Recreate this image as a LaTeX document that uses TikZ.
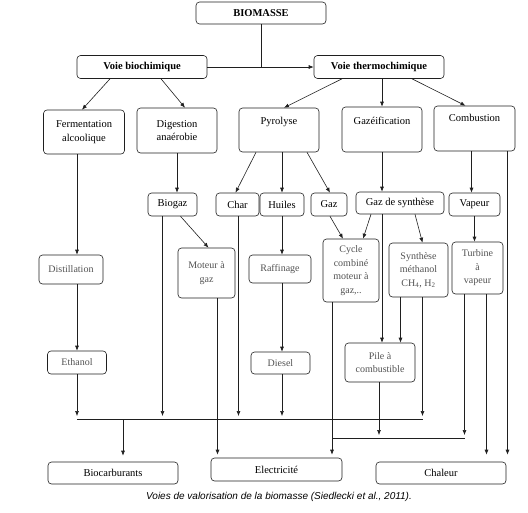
\documentclass[tikz,border=0pt]{standalone}
\usepackage{fontspec}
\setmainfont{Liberation Serif}
\newfontfamily\capfont{Liberation Sans}
\usetikzlibrary{arrows.meta, positioning}
\definecolor{mygray}{gray}{0.32}
\definecolor{myline}{gray}{0.12}

\begin{document}
\begin{tikzpicture}[x=1pt, y=-1pt, line width=0.6pt, myline,
    box/.style={draw, rounded corners=3.5pt, align=center, inner sep=2pt, text=black, font=\fontsize{10.5}{13.5}\selectfont},
    headbox/.style={box, font=\fontsize{10.5}{13}\selectfont\bfseries},
    stepbox/.style={box, text=mygray, font=\fontsize{10}{13.5}\selectfont},
    arr/.style={-{Latex[length=5pt,width=4pt]}}]

    \useasboundingbox (0,0) rectangle (528,512);

    \node[headbox, minimum width=130, minimum height=22] (bio) at (261,13) {BIOMASSE};
    \node[headbox, minimum width=130, minimum height=23] (biochim) at (142,67) {Voie biochimique};
    \node[headbox, minimum width=130, minimum height=23] (thermo) at (379,67) {Voie thermochimique};

    \node[box, minimum width=81, minimum height=44] (ferm) at (84,132) {Fermentation\\alcoolique};
    \node[box, minimum width=80, minimum height=45] (dige) at (177,130.5) {Digestion\\anaérobie};
    \node[box, minimum width=80, text height=14.5pt, text depth=25.5pt] (pyro) at (279,130) {Pyrolyse};
    \node[box, minimum width=80, text height=15.5pt, text depth=25.5pt] (gazei) at (382,129.5) {Gazéification};
    \node[box, minimum width=81, text height=13.5pt, text depth=27.5pt] (combu) at (474.5,128.5) {Combustion};

    \node[box, minimum width=49, minimum height=23] (biogaz) at (172.5,204.5) {Biogaz};
    \node[box, minimum width=43, minimum height=23] (char) at (237.5,204.5) {Char};
    \node[box, minimum width=44, minimum height=23] (huiles) at (282,204.5) {Huiles};
    \node[box, minimum width=36, minimum height=23] (gaz) at (329,204.5) {Gaz};
    \node[box, minimum width=88, minimum height=22] (gazsyn) at (400,203) {Gaz de synthèse};
    \node[box, minimum width=51, minimum height=23] (vapeur) at (474.5,204.5) {Vapeur};

    \node[stepbox, minimum width=64, minimum height=29] (dist) at (71,269.5) {Distillation};
    \node[stepbox, minimum width=57, minimum height=50] (moteur) at (206.5,273) {Moteur à\\gaz};
    \node[stepbox, minimum width=62, minimum height=28] (raff) at (280,269) {Raffinage};
    \node[stepbox, minimum width=56, minimum height=63] (cycle) at (351,270.5) {Cycle\\combiné\\moteur à\\gaz,..};
    \node[stepbox, minimum width=59, minimum height=54] (synth) at (418.5,270) {Synthèse\\méthanol\\CH\textsubscript{4}, H\textsubscript{2}};
    \node[stepbox, minimum width=51, minimum height=52] (turb) at (477.5,268) {Turbine\\à\\vapeur};

    \node[stepbox, minimum width=59, minimum height=23] (eth) at (77,362.5) {Ethanol};
    \node[stepbox, minimum width=59, minimum height=22] (diesel) at (280.5,363) {Diesel};
    \node[stepbox, minimum width=70, minimum height=39] (pile) at (380,362.5) {Pile à\\combustible};

    \node[box, minimum width=130, minimum height=22] (biocarb) at (113,473) {Biocarburants};
    \node[box, minimum width=131, minimum height=23] (elec) at (276.5,469.5) {Electricité};
    \node[box, minimum width=130, minimum height=22] (chal) at (441,473) {Chaleur};

    \node[font=\capfont\itshape\fontsize{10}{12}\selectfont, text=black] (cap) at (279,497) {Voies de valorisation de la biomasse (Siedlecki et al., 2011).};

    \coordinate (busL) at (77,419);
    \coordinate (bus2) at (332,438);

    \draw (bio.south) -- (bio.south |- biochim.east);
    \draw[arr] (biochim.east) -- (thermo.west);

    \draw[arr] ([xshift=-32pt]biochim.south) -- ([xshift=-2pt]ferm.north);
    \draw[arr] ([xshift=19pt]biochim.south) -- ([xshift=8pt]dige.north);
    \draw[arr] ([xshift=-37pt]thermo.south) -- ([xshift=5pt]pyro.north);
    \draw[arr] (gazei.north |- thermo.south) -- (gazei.north);
    \draw[arr] ([xshift=33pt]thermo.south) -- ([xshift=-9pt]combu.north);

    \draw[arr] (ferm.south -| eth) -- (dist.north -| eth);
    \draw[arr] (dist.south -| eth) -- (eth.north);
    \draw[arr, shorten >=3pt] (eth.south) -- (eth.south |- busL);

    \draw[arr] (dige.south) -- (dige.south |- biogaz.north);
    \draw[arr, shorten >=3pt] ([xshift=-10pt]biogaz.south) -- ([xshift=-10pt]biogaz.south |- busL);
    \draw[arr] ([xshift=8pt]biogaz.south) -- ([xshift=2pt]moteur.north);
    \draw[arr, shorten >=3pt] ([xshift=11pt]moteur.south) -- ([xshift=11pt]moteur.south |- elec.north);

    \draw[arr] ([xshift=-23pt]pyro.south) -- ([xshift=-2pt]char.north);
    \draw[arr] (huiles.north |- pyro.south) -- (huiles.north);
    \draw[arr] ([xshift=28pt]pyro.south) -- ([xshift=1pt]gaz.north);
    \draw[arr, shorten >=3pt] ([xshift=1pt]char.south) -- ([xshift=1pt]char.south |- busL);
    \draw[arr] (huiles.south) -- (huiles.south |- raff.north);
    \draw[arr] (huiles.south |- raff.south) -- (huiles.south |- diesel.north);
    \draw[arr, shorten >=3pt] (huiles.south |- diesel.south) -- (huiles.south |- busL);

    \draw[arr] (gazei.south) -- (gazei.south |- gazsyn.north);
    \draw[arr] ([xshift=1pt]gaz.south) -- ([xshift=-8pt]cycle.north);
    \draw[arr] ([xshift=-29pt]gazsyn.south) -- ([xshift=12pt]cycle.north);
    \draw[arr] (gazei.south |- gazsyn.south) -- (gazei.south |- pile.north);
    \draw[arr] ([xshift=15pt]gazsyn.south) -- ([xshift=4pt]synth.north);
    \draw[arr] ([xshift=-18pt]synth.south) -- ([xshift=-18pt]synth.south |- pile.north);
    \draw[arr, shorten >=3pt] ([xshift=4pt]synth.south) -- ([xshift=4pt]synth.south |- busL);

    \draw[arr] ([xshift=-3pt]combu.south) -- ([xshift=-3pt]combu.south |- vapeur.north);
    \draw[arr] (vapeur.south) -- (vapeur.south |- turb.north);
    \draw[arr, shorten >=7pt] ([xshift=33pt]combu.south) -- ([xshift=33pt]combu.south |- chal.north);

    \draw (busL) -- ([xshift=4pt]synth.south |- busL);
    \draw[arr, shorten >=6pt] ([xshift=10pt]biocarb.north |- busL) -- ([xshift=10pt]biocarb.north);

    \draw[arr, shorten >=3pt] ([xshift=-19pt]cycle.south) -- ([xshift=-19pt]cycle.south |- elec.north);
    \draw (bus2) -- ([xshift=-13pt]turb.south |- bus2);
    \draw[arr, shorten >=3pt] ([xshift=-1pt]pile.south) -- ([xshift=-1pt]pile.south |- bus2);
    \draw[arr, shorten >=3pt] ([xshift=-13pt]turb.south) -- ([xshift=-13pt]turb.south |- bus2);
    \draw[arr, shorten >=7pt] ([xshift=9pt]turb.south) -- ([xshift=9pt]turb.south |- chal.north);
\end{tikzpicture}
\end{document}
